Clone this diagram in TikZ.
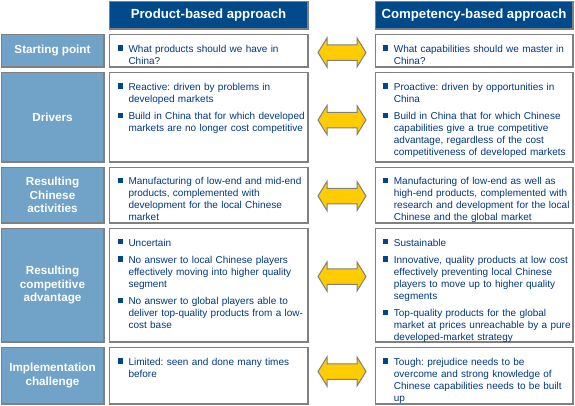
\documentclass[tikz,border=0pt]{standalone}
\usepackage{fontspec}
\setmainfont{Liberation Sans}
\frenchspacing
\definecolor{hdrfill}{RGB}{0,74,140}
\definecolor{labfill}{RGB}{112,163,199}
\definecolor{bordergray}{RGB}{128,128,128}
\definecolor{txtblue}{RGB}{0,56,128}
\definecolor{bulblue}{RGB}{0,70,140}
\definecolor{arrowyellow}{RGB}{255,204,0}
\newcommand\itembody{\hangindent=11pt\hangafter=1\noindent\makebox[11pt][l]{\rule{0pt}{9pt}\textcolor{bulblue}{\rule[1.8pt]{5.3pt}{5.3pt}}}}
\newcommand\bitem{\par\itembody}
\newcommand\sitem{\par\vskip5.3pt\itembody}
\newcommand\eitem{\par}
\begin{document}
\begin{tikzpicture}[x=1pt,y=-1pt,
  box/.style={draw=bordergray, line width=1.5pt, inner sep=0pt},
  hdr/.style={box, fill=hdrfill, minimum height=27.5pt, text=white, font=\bfseries\fontsize{13.2}{15}\selectfont},
  lab/.style={box, fill=labfill, minimum width=102.5pt, text=white, align=center, font=\bfseries\fontsize{11.7}{13.8}\selectfont},
  cbox/.style={box, fill=white},
  cleft/.style={cbox, minimum width=198.5pt},
  cright/.style={cbox, minimum width=197.5pt},
  content/.style={anchor=north west, inner sep=0pt, text width=200pt, text=txtblue, font=\fontsize{10}{12}\selectfont\setlength\parskip{0pt}\frenchspacing},
  darrow/.pic={\draw[draw=bordergray, line width=1pt, fill=arrowyellow, line join=miter]
     (-24,0) -- (-15,-14.5) -- (-15,-7.75) -- (15,-7.75) -- (15,-14.5) -- (24,0)
     -- (15,14.5) -- (15,7.75) -- (-15,7.75) -- (-15,14.5) -- cycle;}
]
\useasboundingbox[fill=white] (0,0) rectangle (575,405);

% headers
\node[hdr, minimum width=198.5pt] (h1) at (208.5,15) {Product-based approach};
\node[hdr, minimum width=197.5pt] (h2) at (474,15) {Competency-based approach};

% row labels
\node[lab, minimum height=32.5pt] (l1) at (52.5,50.5) {Starting point};
\node[lab, minimum height=89.5pt] (l2) at (52.5,117) {Drivers};
\node[lab, minimum height=55.5pt] (l3) at (52.5,195) {Resulting\\Chinese\\activities};
\node[lab, minimum height=113.5pt] (l4) at (52.5,285) {Resulting\\competitive\\advantage};
\node[lab, minimum height=56.5pt] (l5) at (52.5,375.5) {Implementation\\challenge};

% content boxes
\node[cleft, minimum height=32.5pt] (a1) at (208.5,50.5) {};
\node[cleft, minimum height=89.5pt] (a2) at (208.5,117) {};
\node[cleft, minimum height=55.5pt] (a3) at (208.5,195) {};
\node[cleft, minimum height=113.5pt] (a4) at (208.5,285) {};
\node[cleft, minimum height=56.5pt] (a5) at (208.5,375.5) {};
\node[cright, minimum height=32.5pt] (b1) at (474,50.5) {};
\node[cright, minimum height=89.5pt] (b2) at (474,117) {};
\node[cright, minimum height=55.5pt] (b3) at (474,195) {};
\node[cright, minimum height=113.5pt] (b4) at (474,285) {};
\node[cright, minimum height=56.5pt] (b5) at (474,375.5) {};

% texts left
\node[content] (ta1) at (117.3,40.3) {\bitem What products should we have in\newline China?\eitem};
\node[content] (ta2) at (117.3,78.3) {\bitem Reactive: driven by problems in\newline developed markets
  \sitem Build in China that for which developed\newline markets are no longer cost competitive\eitem};
\node[content] (ta3) at (117.3,172.5) {\bitem Manufacturing of low-end and mid-end\newline products, complemented with\newline development for the local Chinese\newline market\eitem};
\node[content] (ta4) at (117.3,234) {\bitem Uncertain
  \sitem No answer to local Chinese players\newline effectively moving into higher quality\newline segment
  \sitem No answer to global players able to\newline deliver top-quality products from a low-\newline cost base\eitem};
\node[content] (ta5) at (117.3,353.3) {\bitem Limited: seen and done many times\newline before\eitem};

% texts right
\node[content] (tb1) at (382.7,40.3) {\bitem What capabilities should we master in\newline China?\eitem};
\node[content] (tb2) at (382.7,78.3) {\bitem Proactive: driven by opportunities in\newline China
  \sitem Build in China that for which Chinese\newline capabilities give a true competitive\newline advantage, regardless of the cost\newline competitiveness of developed markets\eitem};
\node[content] (tb3) at (382.7,172.5) {\bitem Manufacturing of low-end as well as\newline high-end products, complemented with\newline research and development for the local\newline Chinese and the global market\eitem};
\node[content] (tb4) at (382.7,234) {\bitem Sustainable
  \sitem Innovative, quality products at low cost\newline effectively preventing local Chinese\newline players to move up to higher quality\newline segments
  \sitem Top-quality products for the global\newline market at prices unreachable by a pure\newline developed-market strategy\eitem};
\node[content] (tb5) at (382.7,353.3) {\bitem Tough: prejudice needs to be\newline overcome and strong knowledge of\newline Chinese capabilities needs to be built\newline up\eitem};

% arrows
\pic at (342,52.5) {darrow};
\pic at (342,120) {darrow};
\pic at (342,196) {darrow};
\pic at (342,276.5) {darrow};
\pic at (342,371.5) {darrow};
\end{tikzpicture}
\end{document}
